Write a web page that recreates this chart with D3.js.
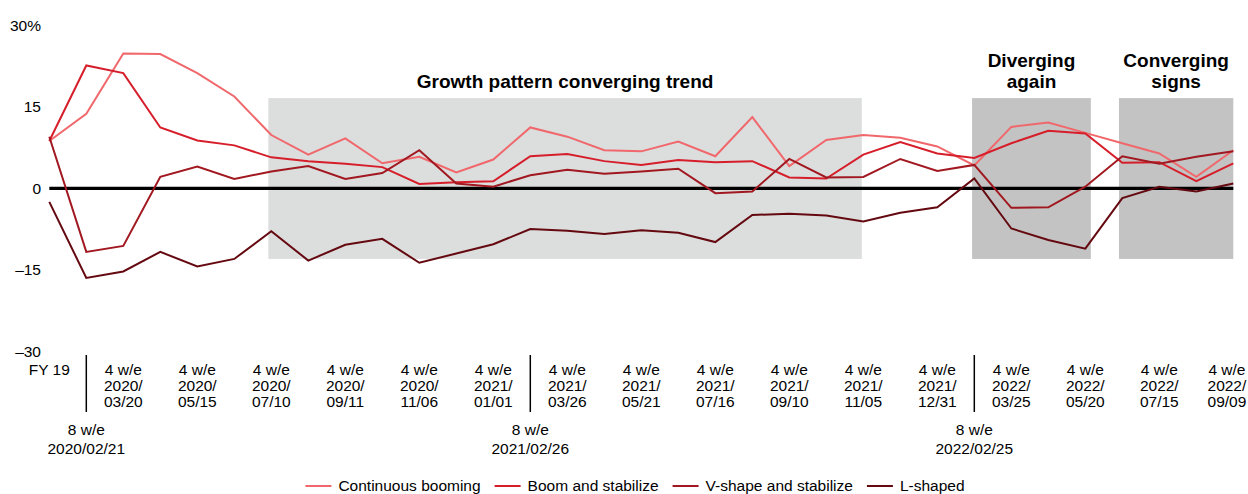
<!DOCTYPE html>
<html>
<head>
<meta charset="utf-8">
<script src="https://cdn.jsdelivr.net/npm/d3@7"></script>
<style>
  body { margin: 0; background: #fff; }
  svg { display: block; font-family: "Liberation Sans", Arial, Helvetica, sans-serif; }
</style>
</head>
<body>
<svg id="chart" width="1248" height="494"></svg>
<script>
// Year-over-year growth (%) by period for four recovery patterns
const periods = [
  "FY 19",
  "8 w/e\n2020/02/21",
  "4 w/e\n2020/\n03/20", "", "4 w/e\n2020/\n05/15", "", "4 w/e\n2020/\n07/10", "",
  "4 w/e\n2020/\n09/11", "", "4 w/e\n2020/\n11/06", "", "4 w/e\n2021/\n01/01",
  "8 w/e\n2021/02/26",
  "4 w/e\n2021/\n03/26", "", "4 w/e\n2021/\n05/21", "", "4 w/e\n2021/\n07/16", "",
  "4 w/e\n2021/\n09/10", "", "4 w/e\n2021/\n11/05", "", "4 w/e\n2021/\n12/31",
  "8 w/e\n2022/02/25",
  "4 w/e\n2022/\n03/25", "", "4 w/e\n2022/\n05/20", "", "4 w/e\n2022/\n07/15", "",
  "4 w/e\n2022/\n09/09"
];

const seriesNames = ["Continuous booming", "Boom and stabilize", "V-shape and stabilize", "L-shaped"];

const continuousBooming = [8.7, 13.7, 24.8, 24.7, 21.2, 16.9, 9.8, 6.2, 9.2, 4.6, 5.8, 2.9, 5.3,
  11.2, 9.5, 7.0, 6.8, 8.6, 5.9, 13.1, 4.1, 8.9, 9.8, 9.3, 7.7, 4.2, 11.3, 12.1, 10.2, 8.3, 6.4, 2.1, 7.0];
const boomAndStabilize = [8.7, 22.6, 21.2, 11.2, 8.8, 7.9, 5.7, 5.0, 4.5, 3.9, 0.8, 1.1, 1.3,
  5.9, 6.3, 5.0, 4.3, 5.2, 4.8, 5.0, 2.0, 1.8, 6.2, 8.5, 6.4, 5.6, 8.3, 10.6, 10.1, 4.7, 4.8, 1.3, 4.6];
const vShapeAndStabilize = [9.5, -11.7, -10.6, 2.1, 4.0, 1.7, 3.1, 4.1, 1.7, 2.8, 7.0, 0.9, 0.3,
  2.4, 3.4, 2.7, 3.1, 3.6, -0.9, -0.6, 5.4, 2.0, 2.1, 5.4, 3.2, 4.3, -3.6, -3.5, 0.3, 5.9, 4.5, 5.8, 6.8];
const lShaped = [-2.5, -16.5, -15.3, -11.7, -14.4, -13.0, -7.9, -13.3, -10.4, -9.3, -13.7, -12.0, -10.3,
  -7.5, -7.8, -8.4, -7.7, -8.2, -9.9, -4.9, -4.7, -5.0, -6.1, -4.5, -3.5, 1.8, -7.4, -9.5, -11.1, -1.8, 0.3, -0.6, 0.9];

const yTicks = [30, 15, 0, -15, -30];

// Shaded phases, given as period index ranges
const phaseLabels = [["Growth pattern converging trend"], ["Diverging", "again"], ["Converging", "signs"]];
const phaseStart = [5.92, 24.94, 28.91];
const phaseEnd = [21.96, 28.15, 32];

// ---- drawing ----
const W = 1248;
const svg = d3.select("#chart");
const colors = ["#f0686c", "#d61e2b", "#a11820", "#650910"];
const phaseFill = ["#dcdddd", "#c2c3c2", "#c2c3c2"];
const allSeries = [continuousBooming, boomAndStabilize, vShapeAndStabilize, lShaped];

const x = d3.scaleLinear().domain([0, periods.length - 1]).range([49.3, 1233.3]);
const y = d3.scaleLinear().domain([-30, 30]).range([351.3, 25.3]);

// phase shading
const phaseTop = 16.6, phaseBottom = -13.0;
phaseStart.forEach((s, k) => {
  svg.append("rect")
    .attr("x", x(s)).attr("width", x(phaseEnd[k]) - x(s))
    .attr("y", y(phaseTop)).attr("height", y(phaseBottom) - y(phaseTop))
    .attr("fill", phaseFill[k]);
  const cx = (x(s) + x(phaseEnd[k])) / 2;
  const lines = phaseLabels[k];
  const t = svg.append("text")
    .attr("text-anchor", "middle")
    .attr("font-size", 19).attr("font-weight", "bold").attr("fill", "#000");
  lines.forEach((ln, j) => {
    t.append("tspan").attr("x", cx)
      .attr("y", 88 - (lines.length - 1 - j) * 21)
      .text(ln);
  });
});

// y axis labels
const yAxis = d3.axisLeft(y).tickValues(yTicks).tickSize(0)
  .tickFormat(d => (d === 30 ? "30%" : d < 0 ? "\u2013" + Math.abs(d) : String(d)));
const yg = svg.append("g").attr("transform", "translate(41,0)").call(yAxis);
yg.select(".domain").remove();
yg.selectAll("text").attr("x", 0).attr("dy", "0.32em")
  .attr("font-size", 15.5).attr("font-family", null).attr("fill", "#000");

// zero line
svg.append("line")
  .attr("x1", x(0)).attr("x2", x(periods.length - 1))
  .attr("y1", y(0)).attr("y2", y(0))
  .attr("stroke", "#000").attr("stroke-width", 3.3);

// series lines
const line = d3.line().x((d, i) => x(i)).y(d => y(d));
allSeries.forEach((vals, k) => {
  svg.append("path").datum(vals)
    .attr("d", line)
    .attr("fill", "none")
    .attr("stroke", colors[k])
    .attr("stroke-width", 2)
    .attr("stroke-linejoin", "miter");
});

// x axis period labels
const xg = svg.append("g").attr("font-size", 15.5).attr("fill", "#000");
periods.forEach((p, i) => {
  if (!p) return;
  const lines = p.split("\n");
  const isEight = lines[0].startsWith("8 w/e");
  const t = xg.append("text").attr("text-anchor", "middle");
  lines.forEach((ln, j) => {
    t.append("tspan").attr("x", x(i))
      .attr("y", isEight ? 435 + j * 19 : 375 + j * 16)
      .text(ln);
  });
  // keep labels inside the right edge
  const bb = t.node().getBBox();
  const overflow = bb.x + bb.width - (W - 1);
  if (overflow > 0) t.attr("transform", `translate(${-overflow},0)`);
  if (isEight) {
    xg.append("line")
      .attr("x1", x(i)).attr("x2", x(i))
      .attr("y1", 355).attr("y2", 412)
      .attr("stroke", "#000").attr("stroke-width", 1.5);
  }
});

// legend
const legend = svg.append("g").attr("font-size", 15.5);
let lx = 0;
seriesNames.forEach((name, k) => {
  const g = legend.append("g").attr("transform", `translate(${lx},0)`);
  g.append("line").attr("x1", 0).attr("x2", 26).attr("y1", 0).attr("y2", 0)
    .attr("stroke", colors[k]).attr("stroke-width", 2);
  const t = g.append("text").attr("x", 33).attr("y", 0).attr("dy", "0.35em")
    .attr("fill", "#000").text(name);
  lx += 33 + t.node().getComputedTextLength() + 14;
});
const legendWidth = lx - 14;
legend.attr("transform", `translate(${635 - legendWidth / 2},486)`);
</script>
</body>
</html>
